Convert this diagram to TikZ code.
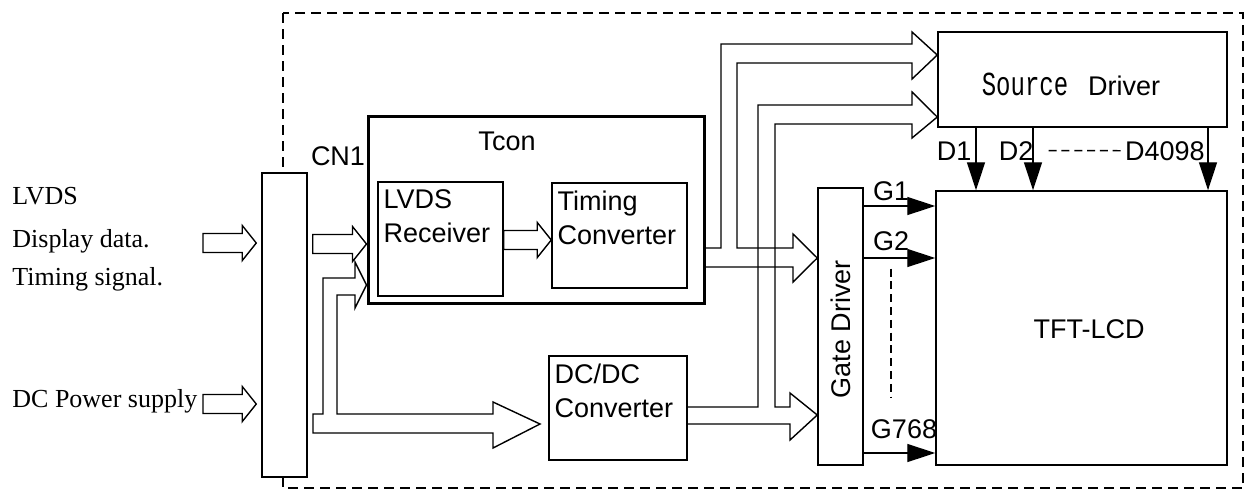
\documentclass[tikz,border=0pt]{standalone}
\usepackage{fontspec}
\setmainfont{Liberation Serif}
\setsansfont{Liberation Sans}
\newfontfamily\monofont{Liberation Mono}
\usetikzlibrary{calc,arrows.meta}

\tikzset{
  box/.style={draw,line width=0.75pt,fill=white,inner sep=0pt},
  blk/.style={draw,line width=0.7pt,line join=miter},
  sig/.style={line width=0.7pt,-{Triangle[length=14pt,width=9pt]}},
  lbl/.style={font=\sffamily\fontsize{13.5}{17}\selectfont,inner sep=0pt},
  inlbl/.style={lbl,anchor=north west,align=left,inner xsep=3pt,inner ysep=4.2pt},
  txt/.style={font=\rmfamily\fontsize{13}{15}\selectfont,inner sep=0pt,anchor=base west},
  dashln/.style={line width=0.7pt,dash pattern=on 4pt off 2.4pt}
}

% hollow block arrow, horizontal, from #1 to the tip #2
\newcommand{\blkarrow}[2]{%
  \draw[blk] let \p1=#1, \p2=#2 in
    (\x1,\y2+4.75pt) -- (\x2-7pt,\y2+4.75pt) -- (\x2-7pt,\y2+8.75pt) -- (\x2,\y2)
    -- (\x2-7pt,\y2-8.75pt) -- (\x2-7pt,\y2-4.75pt) -- (\x1,\y2-4.75pt) -- cycle;}

\begin{document}
\begin{tikzpicture}[x=0.5pt,y=-0.5pt]
\useasboundingbox (0,0) rectangle (1245,493);
% module outline
\draw[line width=0.75pt,dash pattern=on 5pt off 3pt] (283,13) rectangle (1243,488);

% blocks
\node[box,minimum width=22.5pt,minimum height=152pt] (cn1) at (284.5,325) {};
\node[box,line width=1.5pt,minimum width=168pt,minimum height=93.5pt] (tcon) at (536,209.5) {};
\node[box,minimum width=62.5pt,minimum height=57pt] (rx) at (440.5,239) {};
\node[box,minimum width=67.5pt,minimum height=52.5pt] (tc) at (619.5,235.5) {};
\node[box,minimum width=69pt,minimum height=52pt] (dcdc) at (618,408) {};
\node[box,minimum width=144.5pt,minimum height=47.5pt] (src) at (1082.5,79.5) {};
\node[box,minimum width=22.5pt,minimum height=138.5pt] (gate) at (840.5,326.5) {};
\node[box,minimum width=145.5pt,minimum height=137pt] (lcd) at (1081.5,328) {};

% block texts
\node[inlbl] (rxlbl) at (rx.north west) {LVDS\\Receiver};
\node[inlbl] (tclbl) at (tc.north west) {Timing\\Converter};
\node[inlbl] (dclbl) at (dcdc.north west) {DC/DC\\Converter};
\node[lbl] (tconlbl) at (507,141) {Tcon};
\node[lbl] (cn1lbl) at (338,156) {CN1};
\node[lbl,anchor=base] (srclbl) at (1071,95) {{\monofont\fontsize{12}{14}\selectfont\scalebox{1}[1.4]{Source}}\hspace{10pt}Driver};
\node[lbl,anchor=base] (lcdlbl) at (1089,338) {TFT-LCD};
\node[lbl,rotate=90] (gatelbl) at (841,329) {Gate Driver};

% inputs
\node[txt] (lvds) at (12,204) {LVDS};
\node[txt] (disp) at (12,247) {Display data.};
\node[txt] (timsig) at (12,285) {Timing signal.};
\node[txt] (dcpow) at (12,407) {DC Power supply};

% hollow arrows
\coordinate (cnL) at ([xshift=-2.5pt]cn1.west);
\coordinate (cnR) at ([xshift=2.5pt]cn1.east);
\blkarrow{(203,243)}{(cnL |- 0,243)}
\blkarrow{(203,404)}{(cnL |- 0,404)}
\blkarrow{(cnR |- 0,244)}{(tcon.west |- 0,244)}
\blkarrow{(rx.east |- 0,240)}{(tc.west |- 0,240)}
\draw[blk] (313,414) -- (323,414) -- (323,278) -- (355,278) -- (355,262) -- (tcon.west |- 0,285)
  -- (355,308) -- (355,295) -- (337,295) -- (337,414) -- (493,414) -- (493,402) -- (540,424)
  -- (493,448) -- (493,433) -- (313,433) -- cycle;
\draw[blk] (tcon.east |- 0,248) -- (721,248) -- (721,44) -- (912,44) -- (912,32) -- (src.west |- 0,55)
  -- (912,79) -- (912,63) -- (737,63) -- (737,248) -- (793,248) -- (793,234) -- (gate.west |- 0,258)
  -- (793,282) -- (793,267) -- (tcon.east |- 0,267);
\draw[blk] (dcdc.east |- 0,407) -- (758,407) -- (758,105) -- (912,105) -- (912,92) -- (src.west |- 0,117)
  -- (912,138) -- (912,124) -- (775,124) -- (775,407) -- (790,407) -- (790,393) -- (gate.west |- 0,415)
  -- (790,440) -- (790,424) -- (dcdc.east |- 0,424);

% data lines
\foreach \dx in {976,1033,1208}{\draw[sig] (src.south -| \dx,0) -- (lcd.north -| \dx,0);}
\node[lbl,anchor=base] (d1) at (954,160) {D1};
\node[lbl,anchor=base] (d2) at (1016,160) {D2};
\node[lbl,anchor=base east] (d4098) at (1205,160) {D4098};
\draw[dashln,shorten <=7.5pt,shorten >=2pt] (d2.east) -- (d4098.west);

% gate lines
\foreach \gy in {206,258,453}{\draw[sig] (gate.east |- 0,\gy) -- (lcd.west |- 0,\gy);}
\node[lbl,anchor=base] (g1) at (891,200) {G1};
\node[lbl,anchor=base] (g2) at (891,250) {G2};
\node[lbl,anchor=base] (g768) at (904,438) {G768};
\draw[dashln,shorten <=9pt,shorten >=10.5pt] (g2.south) -- (g2.south |- g768.north);
\end{tikzpicture}
\end{document}
